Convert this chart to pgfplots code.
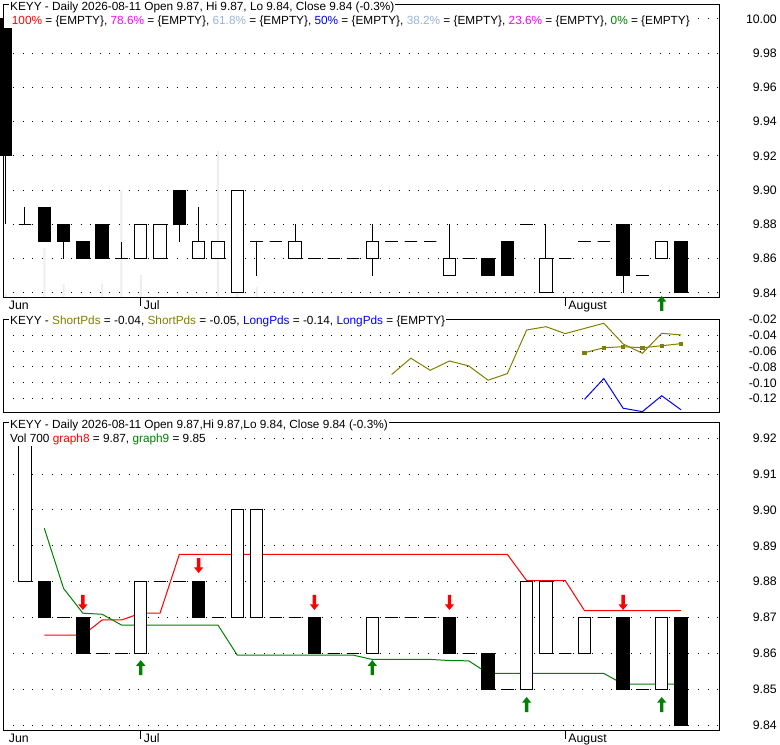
\documentclass[border=0pt]{standalone}
\usepackage{pgfplots}
\pgfplotsset{compat=1.18}
\usepackage{pgfplotstable}
\usepgfplotslibrary{statistics}
\usepackage{fontspec}
\setmainfont{Liberation Sans}

\definecolor{cred}{HTML}{FF0000}
\definecolor{cmag}{HTML}{FF00FF}
\definecolor{cgb}{HTML}{9BB5D6}
\definecolor{cblue}{HTML}{0000FF}
\definecolor{cgreen}{HTML}{008000}
\definecolor{colive}{HTML}{808000}
\definecolor{volgray}{HTML}{EEEEEE}

\newcommand{\tickfont}{\fontsize{12.3}{14}\selectfont}
\newcommand{\titlefont}{\fontsize{11.8}{13}\selectfont}

\pgfdeclareplotmark{uparr}{%
 \pgfpathmoveto{\pgfqpoint{0pt}{0pt}}%
 \pgfpathlineto{\pgfqpoint{4.7pt}{-5.7pt}}%
 \pgfpathlineto{\pgfqpoint{1.7pt}{-5.7pt}}%
 \pgfpathlineto{\pgfqpoint{1.7pt}{-15pt}}%
 \pgfpathlineto{\pgfqpoint{-1.7pt}{-15pt}}%
 \pgfpathlineto{\pgfqpoint{-1.7pt}{-5.7pt}}%
 \pgfpathlineto{\pgfqpoint{-4.7pt}{-5.7pt}}%
 \pgfpathclose\pgfusepathqfill}
\pgfdeclareplotmark{dnarr}{%
 \pgfpathmoveto{\pgfqpoint{0pt}{0pt}}%
 \pgfpathlineto{\pgfqpoint{4.7pt}{5.7pt}}%
 \pgfpathlineto{\pgfqpoint{1.7pt}{5.7pt}}%
 \pgfpathlineto{\pgfqpoint{1.7pt}{15pt}}%
 \pgfpathlineto{\pgfqpoint{-1.7pt}{15pt}}%
 \pgfpathlineto{\pgfqpoint{-1.7pt}{5.7pt}}%
 \pgfpathlineto{\pgfqpoint{-4.7pt}{5.7pt}}%
 \pgfpathclose\pgfusepathqfill}

\pgfplotstableread{
i o h l c
0 10.00 10.00 9.88 9.92
1 9.88 9.89 9.88 9.88
2 9.89 9.89 9.87 9.87
3 9.88 9.88 9.86 9.87
4 9.87 9.87 9.86 9.86
5 9.88 9.88 9.86 9.86
6 9.86 9.87 9.86 9.86
7 9.86 9.88 9.86 9.88
8 9.86 9.88 9.86 9.88
9 9.90 9.90 9.87 9.88
10 9.86 9.89 9.86 9.87
11 9.86 9.87 9.86 9.87
12 9.84 9.90 9.84 9.90
13 9.87 9.87 9.85 9.87
14 9.87 9.87 9.87 9.87
15 9.86 9.88 9.86 9.87
16 9.86 9.86 9.86 9.86
17 9.86 9.86 9.86 9.86
18 9.86 9.86 9.86 9.86
19 9.86 9.88 9.85 9.87
20 9.87 9.87 9.87 9.87
21 9.87 9.87 9.87 9.87
22 9.87 9.87 9.87 9.87
23 9.85 9.88 9.85 9.86
24 9.86 9.86 9.86 9.86
25 9.86 9.86 9.85 9.85
26 9.87 9.87 9.85 9.85
27 9.88 9.88 9.88 9.88
28 9.84 9.88 9.84 9.86
29 9.86 9.86 9.86 9.86
30 9.87 9.87 9.87 9.87
31 9.87 9.87 9.87 9.87
32 9.88 9.88 9.84 9.85
33 9.85 9.85 9.85 9.85
34 9.86 9.87 9.86 9.87
35 9.87 9.87 9.84 9.84
}\pricetbl

\pgfplotstableread{
i o c
1 9.88 9.92
2 9.88 9.87
3 9.87 9.87
4 9.87 9.86
5 9.86 9.86
6 9.86 9.86
7 9.86 9.88
8 9.88 9.88
9 9.88 9.88
10 9.88 9.87
11 9.87 9.87
12 9.87 9.90
13 9.87 9.90
14 9.87 9.87
15 9.87 9.87
16 9.87 9.86
17 9.86 9.86
18 9.86 9.86
19 9.86 9.87
20 9.87 9.87
21 9.87 9.87
22 9.87 9.87
23 9.87 9.86
24 9.86 9.86
25 9.86 9.85
26 9.85 9.85
27 9.85 9.88
28 9.86 9.88
29 9.86 9.86
30 9.86 9.87
31 9.87 9.87
32 9.87 9.85
33 9.85 9.85
34 9.85 9.87
35 9.87 9.84
}\boxtbl

\pgfplotsset{
  common/.style={
    anchor=south west, scale only axis, width=716pt,
    xmin=-0.1244, xmax=36.985, enlargelimits=false, clip=false,
    axis line style={line width=1pt, black},
    ymajorgrids, grid style={black, line width=1pt, dash pattern=on 1pt off 8.65pt},
    yticklabel pos=right, ytick style={draw=none},
    tick align=outside, major tick length=8pt, xtick pos=left,
    xtick style={black, line width=1pt},
    tick label style={font=\tickfont, black},
    yticklabel style={anchor=east, inner sep=0pt, xshift=49.7pt},
    xticklabel style={anchor=base west, inner sep=0pt, xshift=3pt, yshift=-3.6pt},
    /pgf/number format/fixed, /pgf/number format/fixed zerofill,
    /pgf/number format/precision=2, /pgf/number format/assume math mode=true,
    scaled y ticks=false, boxplot/draw direction=y,
  },
  candle/.style={draw=black, line width=1pt, mark=none},
}

\begin{document}
\begin{tikzpicture}
\useasboundingbox (0,0) rectangle (780pt,745pt);

% volume bars behind panel 1
\begin{axis}[at={(3.3pt,447.3pt)}, anchor=south west, scale only axis, width=716pt, height=292.7pt,
  xmin=-0.1244, xmax=36.985, ymin=0, ymax=292.7, enlargelimits=false, hide axis, ybar, bar width=2pt]
\addplot[fill=volgray, draw=none] coordinates {(0,3.7) (1,1) (2,49.4) (3,13.7) (5,13.7) (6,107.7) (7,22.7) (11,146.7) (12,5) (13,11)};
\end{axis}

% panel 1: price
\begin{axis}[common, at={(3.3pt,447.3pt)}, height=292.7pt,
  ymin=9.837256, ymax=10.008175,
  ytick={9.84,9.86,9.88,9.90,9.92,9.94,9.96,9.98,10.00},
  xtick={7,29}, xticklabels={Jul,August},
  extra x ticks={0}, extra x tick labels={Jun}, extra x tick style={major tick style={draw=none}}]
\pgfplotsinvokeforeach{0,...,35}{%
  \pgfplotstablegetelem{#1}{i}\of\pricetbl \edef\ci{\pgfplotsretval}%
  \pgfplotstablegetelem{#1}{o}\of\pricetbl \edef\co{\pgfplotsretval}%
  \pgfplotstablegetelem{#1}{h}\of\pricetbl \edef\ch{\pgfplotsretval}%
  \pgfplotstablegetelem{#1}{l}\of\pricetbl \edef\cl{\pgfplotsretval}%
  \pgfplotstablegetelem{#1}{c}\of\pricetbl \edef\cc{\pgfplotsretval}%
  \pgfmathsetmacro\cbot{min(\co,\cc)}%
  \pgfmathsetmacro\ctop{max(\co,\cc)}%
  \pgfmathtruncatemacro\cdown{\cc<\co}%
  \ifnum\cdown=1 \def\cfill{black}\else\def\cfill{white}\fi
  \edef\temp{\noexpand\addplot[candle, fill=\cfill, boxplot/every box/.style={draw=black, fill=\cfill},
    boxplot prepared={draw position=\ci, lower whisker=\cl, lower quartile=\cbot, median=\cbot,
    upper quartile=\ctop, upper whisker=\ch, box extend=0.64, whisker extend=0}] coordinates {};}%
  \temp
}
\addplot[only marks, mark=uparr, color=cgreen] coordinates {(34,9.83825)};
\end{axis}

% panel 2: indicators
\begin{axis}[common, at={(3.3pt,332pt)}, height=93.7pt,
  ymin=-0.13801, ymax=-0.02, xtick=\empty,
  ytick={-0.12,-0.10,-0.08,-0.06,-0.04,-0.02}]
\addplot[colive, line width=1pt, mark=none] coordinates {(20,-0.0896) (21,-0.069) (22,-0.0842) (23,-0.0725) (24,-0.0787) (25,-0.0967) (26,-0.0884) (27,-0.0335) (28,-0.0293) (29,-0.038) (30,-0.0315) (31,-0.025) (32,-0.051) (33,-0.0628) (34,-0.0376) (35,-0.0397)};
\addplot[colive, line width=1pt, mark=square*, mark size=1.6pt] coordinates {(30,-0.0621) (31,-0.0558) (32,-0.0545) (33,-0.0558) (34,-0.0533) (35,-0.0507)};
\addplot[cblue, line width=1pt, mark=none] coordinates {(30,-0.1208) (31,-0.0946) (32,-0.132) (33,-0.1363) (34,-0.1163) (35,-0.134)};
\end{axis}

% panel 3
\begin{axis}[common, at={(3.3pt,14pt)}, height=308.7pt,
  ymin=9.838326, ymax=9.924465,
  ytick={9.84,9.85,9.86,9.87,9.88,9.89,9.90,9.91,9.92},
  xtick={7,29}, xticklabels={Jul,August},
  extra x ticks={0}, extra x tick labels={Jun}, extra x tick style={major tick style={draw=none}}]
\addplot[cred, line width=1pt, mark=none] coordinates {(2,9.8651) (3,9.8651) (4,9.8651) (5,9.8693) (6,9.8693) (7,9.8712) (8,9.8712) (9,9.8876) (26,9.8876) (27,9.8803) (29,9.8803) (30,9.8719) (35,9.8719)};
\addplot[cgreen, line width=1pt, mark=none] coordinates {(2,9.8949) (3,9.8781) (4,9.8712) (5,9.8709) (6,9.8679) (11,9.8679) (12,9.8595) (18,9.8595) (19,9.8583) (22,9.8583) (23,9.8580) (24,9.8579) (25,9.8544) (31,9.8544) (32,9.8514) (35,9.8514)};
\pgfplotsinvokeforeach{0,...,34}{%
  \pgfplotstablegetelem{#1}{i}\of\boxtbl \edef\ci{\pgfplotsretval}%
  \pgfplotstablegetelem{#1}{o}\of\boxtbl \edef\co{\pgfplotsretval}%
  \pgfplotstablegetelem{#1}{c}\of\boxtbl \edef\cc{\pgfplotsretval}%
  \pgfmathsetmacro\cbot{min(\co,\cc)}%
  \pgfmathsetmacro\ctop{max(\co,\cc)}%
  \pgfmathtruncatemacro\cdown{\cc<\co}%
  \ifnum\cdown=1 \def\cfill{black}\else\def\cfill{white}\fi
  \edef\temp{\noexpand\addplot[candle, fill=\cfill, boxplot/every box/.style={draw=black, fill=\cfill},
    boxplot prepared={draw position=\ci, lower whisker=\cbot, lower quartile=\cbot, median=\cbot,
    upper quartile=\ctop, upper whisker=\ctop, box extend=0.64, whisker extend=0}] coordinates {};}%
  \temp
}
\addplot[only marks, mark=dnarr, color=cred] coordinates {(4,9.8721) (10,9.8824) (16,9.8721) (23,9.8721) (32,9.8721)};
\addplot[only marks, mark=uparr, color=cgreen] coordinates {(7,9.8581) (19,9.8581) (27,9.8478) (34,9.8478)};
\end{axis}

% titles
\begin{scope}[every node/.style={anchor=base west, fill=white, inner sep=1pt, font=\titlefont, text=black}]
\node at (9pt,734.5pt) {KEYY - Daily 2026-08-11 Open 9.87, Hi 9.87, Lo 9.84, Close 9.84 (-0.3\%)};
\node at (3.5pt,720pt) {\hspace*{7.2pt}\textcolor{cred}{100\%} = \{EMPTY\}, \textcolor{cmag}{78.6\%} = \{EMPTY\}, \textcolor{cgb}{61.8\%} = \{EMPTY\}, \textcolor{cblue}{50\%} = \{EMPTY\}, \textcolor{cgb}{38.2\%} = \{EMPTY\}, \textcolor{cmag}{23.6\%} = \{EMPTY\}, \textcolor{cgreen}{0\%} = \{EMPTY\}};
\node at (9pt,420.7pt) {KEYY - \textcolor{colive}{ShortPds} = -0.04, \textcolor{colive}{ShortPds} = -0.05, \textcolor{cblue}{LongPds} = -0.14, \textcolor{cblue}{LongPds} = \{EMPTY\}};
\node at (9pt,316.7pt) {KEYY - Daily 2026-08-11 Open 9.87,Hi 9.87,Lo 9.84, Close 9.84 (-0.3\%)};
\node at (9pt,302.3pt) {Vol 700 \textcolor{cred}{graph8} = 9.87, \textcolor{cgreen}{graph9} = 9.85};
\end{scope}
\end{tikzpicture}
\end{document}
